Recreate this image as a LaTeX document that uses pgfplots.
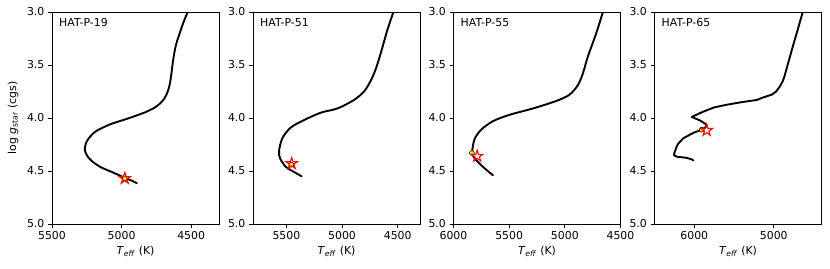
\documentclass[border=0pt]{standalone}
\usepackage{pgfplots}
\pgfplotsset{compat=1.18}
\usepackage{fontspec}
\setmainfont{DejaVu Sans}

\pgfdeclareplotmark{pentagram}{%
  \pgfpathmoveto{\pgfpointpolar{90}{\pgfplotmarksize}}%
  \pgfpathlineto{\pgfpointpolar{126}{0.382\pgfplotmarksize}}%
  \pgfpathlineto{\pgfpointpolar{162}{\pgfplotmarksize}}%
  \pgfpathlineto{\pgfpointpolar{198}{0.382\pgfplotmarksize}}%
  \pgfpathlineto{\pgfpointpolar{234}{\pgfplotmarksize}}%
  \pgfpathlineto{\pgfpointpolar{270}{0.382\pgfplotmarksize}}%
  \pgfpathlineto{\pgfpointpolar{306}{\pgfplotmarksize}}%
  \pgfpathlineto{\pgfpointpolar{342}{0.382\pgfplotmarksize}}%
  \pgfpathlineto{\pgfpointpolar{18}{\pgfplotmarksize}}%
  \pgfpathlineto{\pgfpointpolar{54}{0.382\pgfplotmarksize}}%
  \pgfpathclose
  \pgfusepathqstroke
}

\pgfplotsset{
  hr/.style={
    width=167pt, height=212pt, scale only axis,
    anchor=south west,
    x dir=reverse, y dir=reverse,
    ymin=3, ymax=5,
    ytick={3,3.5,4,4.5,5},
    /pgf/number format/assume math mode=true,
    yticklabel style={/pgf/number format/.cd, fixed, fixed zerofill, precision=1, assume math mode=true},
    xticklabel style={/pgf/number format/.cd, set thousands separator={}, assume math mode=true},
    tick align=outside, tick pos=left,
    major tick length=3.8pt,
    axis line style={line width=0.9pt},
    every tick/.style={black, line width=0.9pt},
    xlabel={\textit{T}\textsubscript{\textit{eff}} (K)},
    xlabel style={at={(axis description cs:0.5,-0.13)}, anchor=center},
  },
  curve/.style={black, line width=1.9pt, line join=round, line cap=round, no markers},
  ydot/.style={only marks, mark=*, mark size=2.4pt, mark options={fill=yellow, draw=black, line width=0.6pt}},
  rstar/.style={only marks, mark=pentagram, mark size=6pt, mark options={draw=red, line width=1.1pt}},
}

\begin{document}
\fontsize{10.9}{13}\selectfont
\begin{tikzpicture}
\useasboundingbox (0pt,0pt) rectangle (830pt,268pt);

% HAT-P-19
\begin{axis}[hr, at={(52pt,44pt)}, xmin=4300, xmax=5500, xtick={4500,5000,5500},
  ylabel={log \textit{g}\textsubscript{star} (cgs)},
  ylabel style={at={(axis description cs:-0.2335,0.5)}, anchor=center}]
\addplot[curve, smooth, tension=0.5] coordinates {
(4525,3.00) (4556,3.10) (4585,3.21) (4611,3.32) (4629,3.45) (4640,3.56)
(4652,3.67) (4671,3.76) (4700,3.83) (4748,3.89) (4820,3.94) (4900,3.98)
(4990,4.02) (5083,4.06) (5190,4.13) (5250,4.22)
(5263,4.31) (5227,4.39) (5155,4.46) (5060,4.515) (4975,4.565) (4920,4.595) (4890,4.615)
};
\addplot[ydot] coordinates {(4977,4.57)};
\addplot[rstar] coordinates {(4977,4.57)};
\node[anchor=north west, inner sep=0pt] at (axis description cs:0.042,0.972) {HAT-P-19};
\end{axis}

% HAT-P-51
\begin{axis}[hr, at={(253pt,44pt)}, xmin=4300, xmax=5800, xtick={4500,5000,5500}]
\addplot[curve, smooth, tension=0.5] coordinates {
(4539,3.00) (4593,3.17) (4653,3.39) (4698,3.54) (4743,3.65) (4803,3.75)
(4893,3.83) (5042,3.91) (5192,3.95) (5342,4.02) (5461,4.09) (5536,4.19)
(5566,4.31) (5557,4.38) (5506,4.46) (5446,4.50) (5363,4.55)
};
\addplot[ydot] coordinates {(5455,4.44)};
\addplot[rstar] coordinates {(5452,4.43)};
\node[anchor=north west, inner sep=0pt] at (axis description cs:0.042,0.972) {HAT-P-51};
\end{axis}

% HAT-P-55
\begin{axis}[hr, at={(453.5pt,44pt)}, xmin=4500, xmax=6000, xtick={4500,5000,5500,6000}]
\addplot[curve, smooth, tension=0.5] coordinates {
(4658,3.00) (4718,3.20) (4793,3.42) (4838,3.58) (4883,3.69) (4958,3.78)
(5078,3.84) (5287,3.91) (5497,3.97) (5646,4.03) (5751,4.11) (5811,4.20)
(5832,4.32) (5811,4.38) (5736,4.46) (5646,4.54)
};
\addplot[ydot] coordinates {(5835,4.33)};
\addplot[rstar] coordinates {(5787,4.36)};
\node[anchor=north west, inner sep=0pt] at (axis description cs:0.042,0.972) {HAT-P-55};
\end{axis}

% HAT-P-65
\begin{axis}[hr, at={(654.5pt,44pt)}, xmin=4400, xmax=6500, xtick={5000,6000}]
\addplot[curve] coordinates {
(4636,3.00) (4674,3.10) (4712,3.20) (4755,3.31) (4796,3.42) (4830,3.51) (4859,3.59)
(4885,3.65) (4922,3.70) (4970,3.75) (5026,3.78) (5130,3.805) (5215,3.83) (5400,3.85)
(5592,3.875) (5750,3.90) (5886,3.94) (6032,3.99)
(5928,4.023) (5844,4.063) (5860,4.09) (5906,4.11) (6011,4.14) (6136,4.19)
(6200,4.24) (6221,4.27) (6250,4.33) (6255,4.35) (6221,4.365) (6100,4.375) (6032,4.39) (6012,4.40)
};
\addplot[ydot] coordinates {(5906,4.11)};
\addplot[rstar] coordinates {(5844,4.117)};
\node[anchor=north west, inner sep=0pt] at (axis description cs:0.042,0.972) {HAT-P-65};
\end{axis}
\end{tikzpicture}
\end{document}
